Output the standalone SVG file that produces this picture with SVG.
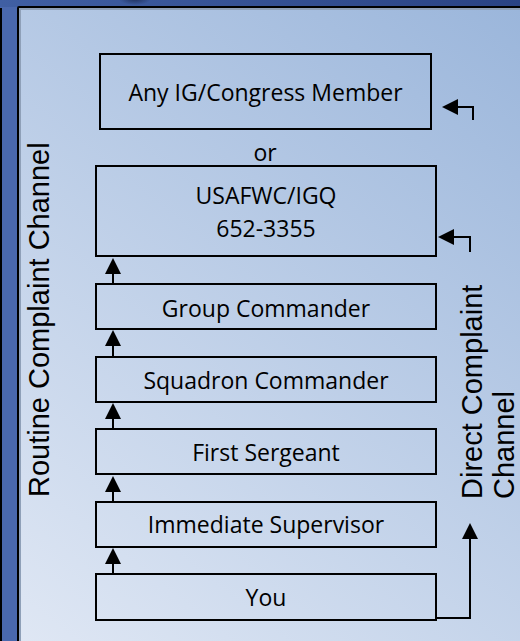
<svg xmlns="http://www.w3.org/2000/svg" width="520" height="641" viewBox="0 0 520 641">
  <defs>
    <linearGradient id="bandGrad" x1="0" y1="0" x2="1" y2="0">
      <stop offset="0" stop-color="#405fa3"/>
      <stop offset="1" stop-color="#2a4384"/>
    </linearGradient>
    <linearGradient id="panelGrad" gradientUnits="userSpaceOnUse" x1="520" y1="10" x2="20" y2="641">
      <stop offset="0" stop-color="#9bb6db"/>
      <stop offset="1" stop-color="#dfe7f4"/>
    </linearGradient>
    <radialGradient id="blob" cx="0.5" cy="0.5" r="0.5">
      <stop offset="0" stop-color="#1a2850" stop-opacity="0.8"/>
      <stop offset="1" stop-color="#1a2850" stop-opacity="0"/>
    </radialGradient>
    <marker id="ah" markerUnits="userSpaceOnUse" markerWidth="17" markerHeight="17" refX="11" refY="8" orient="auto">
      <path d="M0,0 L16,8 L0,16 Z" fill="#000"/>
    </marker>
    <style>
      .box { fill: none; stroke: #000; stroke-width: 2; }
      .lbl { font-family: "Open Sans", "Noto Sans", sans-serif; font-size: 23px; fill: #000; text-anchor: middle; }
      .vlbl { font-family: "Liberation Sans", Arial, sans-serif; font-size: 29px; fill: #000; }
      .conn { fill: none; stroke: #000; stroke-width: 2; marker-end: url(#ah); }
    </style>
  </defs>

  <g id="background">
    <rect x="0" y="0" width="520" height="641" fill="#4a68ad"/>
    <rect x="0" y="0" width="520" height="7" fill="url(#bandGrad)"/>
    <ellipse cx="135" cy="-1" rx="16" ry="6" fill="url(#blob)"/>
    <line x1="1" y1="8" x2="1" y2="641" stroke="#000" stroke-width="2"/>
    <rect x="17" y="6" width="520" height="650" rx="2" fill="#000"/>
    <rect x="19" y="8" width="520" height="650" fill="#8fa0b8"/>
    <rect x="21" y="10" width="520" height="650" fill="url(#panelGrad)"/>
  </g>

  <g id="label-routine">
    <text class="vlbl" transform="translate(49,497) rotate(-90)">Routine Complaint Channel</text>
  </g>
  <g id="label-direct">
    <text class="vlbl" transform="translate(482,499) rotate(-90)">Direct Complaint</text>
    <text class="vlbl" transform="translate(514,499) rotate(-90)">Channel</text>
  </g>

  <g id="node-any-ig">
    <rect class="box" x="100" y="54" width="331" height="75"/>
    <text class="lbl" x="265.5" y="101">Any IG/Congress Member</text>
  </g>
  <g id="label-or">
    <text class="lbl" x="265" y="161">or</text>
  </g>
  <g id="node-usafwc">
    <rect class="box" x="96" y="166" width="340" height="90"/>
    <text class="lbl" x="266" y="204">USAFWC/IGQ</text>
    <text class="lbl" x="266" y="237">652-3355</text>
  </g>
  <g id="node-group-commander">
    <rect class="box" x="96" y="284" width="340" height="45"/>
    <text class="lbl" x="266" y="316.5">Group Commander</text>
  </g>
  <g id="node-squadron-commander">
    <rect class="box" x="96" y="357" width="340" height="45"/>
    <text class="lbl" x="266" y="389">Squadron Commander</text>
  </g>
  <g id="node-first-sergeant">
    <rect class="box" x="96" y="429" width="340" height="45"/>
    <text class="lbl" x="266" y="461">First Sergeant</text>
  </g>
  <g id="node-immediate-supervisor">
    <rect class="box" x="96" y="502" width="340" height="45"/>
    <text class="lbl" x="266" y="533">Immediate Supervisor</text>
  </g>
  <g id="node-you">
    <rect class="box" x="96" y="574" width="340" height="46"/>
    <text class="lbl" x="266" y="606">You</text>
  </g>

  <g id="connectors">
    <path class="conn" d="M113,284 V263"/>
    <path class="conn" d="M113,357 V335"/>
    <path class="conn" d="M113,429 V408"/>
    <path class="conn" d="M113,502 V481"/>
    <path class="conn" d="M113,574 V553"/>
    <path class="conn" d="M473,120 V107 H447"/>
    <path class="conn" d="M470,252 V237 H443"/>
    <path class="conn" d="M436,618 H470 V528"/>
  </g>
</svg>
